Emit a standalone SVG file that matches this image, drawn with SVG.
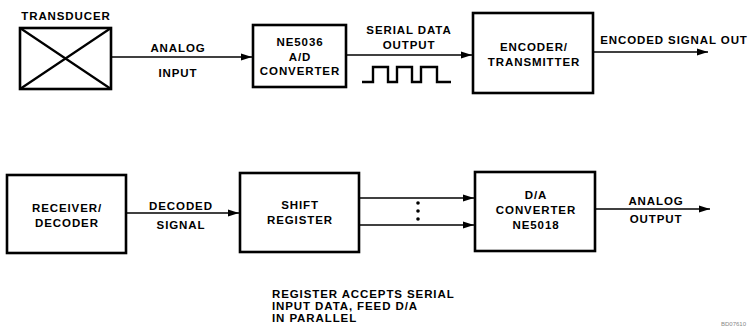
<svg xmlns="http://www.w3.org/2000/svg" width="750" height="332" viewBox="0 0 750 332">
<style>
.box{fill:#fff;stroke:#000;stroke-width:2.6}
.t{font-family:"Liberation Sans",Arial,sans-serif;font-weight:bold;font-size:11.5px;letter-spacing:0.9px;fill:#000;text-anchor:middle}
.n{text-anchor:start}
.c{fill:none;stroke:#000;stroke-width:1.5}
</style>
<defs>
<marker id="ah" markerUnits="userSpaceOnUse" markerWidth="11" markerHeight="8" refX="11" refY="4" orient="auto">
<path d="M0,0.5 L11,4 L0,7.5 z" fill="#000"/>
</marker>
</defs>
<rect width="750" height="332" fill="#fff"/>

<g id="transducer">
<rect class="box" x="20" y="28" width="91" height="61"/>
<path d="M20,28 L111,89 M111,28 L20,89" stroke="#000" stroke-width="2.2"/>
<text class="t" x="66" y="20">TRANSDUCER</text>
</g>

<g id="adc">
<rect class="box" x="253" y="25" width="93" height="62"/>
<text class="t" x="300" y="46">NE5036</text>
<text class="t" x="300" y="61">A/D</text>
<text class="t" x="300" y="75">CONVERTER</text>
</g>

<g id="encoder">
<rect class="box" x="473" y="13" width="120" height="80"/>
<text class="t" x="534" y="51">ENCODER/</text>
<text class="t" x="534" y="66">TRANSMITTER</text>
</g>

<g id="receiver">
<rect class="box" x="7" y="175" width="119" height="78"/>
<text class="t" x="67" y="212">RECEIVER/</text>
<text class="t" x="67" y="227">DECODER</text>
</g>

<g id="shift">
<rect class="box" x="240" y="173" width="119" height="79"/>
<text class="t" x="300" y="209">SHIFT</text>
<text class="t" x="300" y="224">REGISTER</text>
</g>

<g id="dac">
<rect class="box" x="475" y="172" width="120" height="79"/>
<text class="t" x="536" y="199">D/A</text>
<text class="t" x="536" y="214">CONVERTER</text>
<text class="t" x="536" y="229">NE5018</text>
</g>

<g id="connectors">
<line class="c" x1="111" y1="57" x2="252" y2="57" marker-end="url(#ah)"/>
<line class="c" x1="346" y1="55" x2="472" y2="55" marker-end="url(#ah)"/>
<line class="c" x1="593" y1="52" x2="708" y2="52" marker-end="url(#ah)"/>
<line class="c" x1="126" y1="213" x2="239" y2="213" marker-end="url(#ah)"/>
<line class="c" x1="359" y1="198" x2="474" y2="198" marker-end="url(#ah)"/>
<line class="c" x1="359" y1="225" x2="474" y2="225" marker-end="url(#ah)"/>
<line class="c" x1="595" y1="209" x2="710" y2="209" marker-end="url(#ah)"/>
<circle cx="418" cy="203" r="1.8"/>
<circle cx="418" cy="211" r="1.8"/>
<circle cx="418" cy="219" r="1.8"/>
</g>

<g id="labels">
<text class="t" x="178" y="52">ANALOG</text>
<text class="t" x="178" y="77">INPUT</text>
<text class="t" x="409" y="34">SERIAL DATA</text>
<text class="t" x="409" y="49">OUTPUT</text>
<path d="M362,82 H373 V67 H388 V82 H397 V67 H412 V82 H421 V67 H437 V82 H451" fill="none" stroke="#000" stroke-width="2.4"/>
<text class="t" x="674" y="44">ENCODED SIGNAL OUT</text>
<text class="t" x="181" y="210">DECODED</text>
<text class="t" x="181" y="229">SIGNAL</text>
<text class="t" x="656" y="205">ANALOG</text>
<text class="t" x="656" y="223">OUTPUT</text>
<text class="t n" x="272" y="298">REGISTER ACCEPTS SERIAL</text>
<text class="t n" x="272" y="310">INPUT DATA, FEED D/A</text>
<text class="t n" x="272" y="322">IN PARALLEL</text>
<text x="721" y="326" font-family="'Liberation Sans',Arial,sans-serif" font-size="6" fill="#888">BD07610</text>
</g>
</svg>
